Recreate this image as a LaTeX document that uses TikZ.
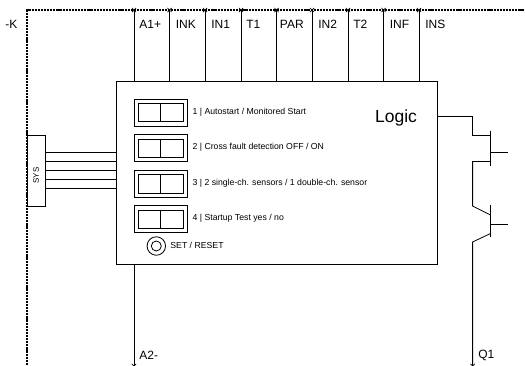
\documentclass[tikz,border=0pt]{standalone}
\usepackage{fontspec}
\setmainfont{Liberation Sans}
\usetikzlibrary{shapes.misc}
\begin{document}
\begin{tikzpicture}[x=1pt, y=-1pt, inner sep=0mm, line width=0.8pt,
		busstyle/.style={line width=1.1pt, dash pattern=on 2.2pt off 0.9pt},
		crossstyle/.style={draw, cross out, line width=0.7pt, minimum size=3.5pt},
		termstyle/.style={font=\fontsize{12}{14}\selectfont, anchor=west},
		textstyle/.style={font=\fontsize{8.7}{10}\selectfont, anchor=west},
		boxstyle/.style={draw, fill=white}]
		\useasboundingbox (0,0) rectangle (525,365);

		% bus
		\coordinate (corner) at (27,10);
		\coordinate (busend) at (525,10);
		\coordinate (busbot) at (27,365);
		\draw [busstyle] (busbot) -- (corner) -- (busend);
		\node [termstyle] (kname) at (5,24) {-K};

		% logic block
		\node [boxstyle, minimum width=321pt, minimum height=183pt] (logic) at (276.5,172.5) {};
		\node [font=\fontsize{17.5}{20}\selectfont] (logicname) at (396,118) {Logic};

		% terminals
		\foreach \name/\px/\lab/\off in {aone/134/A1+/5, ink/169.5/INK/6, inone/205/IN1/6, tone/241/T1/5,
				par/276.5/PAR/3, intwo/312/IN2/6, ttwo/348/T2/5, inf/383.5/INF/6, ins/419/INS/6} {
			\node [crossstyle] (\name) at (\px,10) {};
			\node [termstyle] (\name lab) at (\px+\off,24) {\lab};
			\draw (\name.center) -- (\name.center |- logic.north);
		}

		% switches
		\foreach \n/\py/\lab in {1/112.5/{1 | Autostart / Monitored Start},
				2/148.2/{2 | Cross fault detection OFF / ON},
				3/183.9/{3 | 2 single-ch. sensors / 1 double-ch. sensor},
				4/219.2/{4 | Startup Test yes / no}} {
			\node [draw, minimum width=53pt, minimum height=27pt] (sw\n) at (160.5,\py) {};
			\node [draw, minimum width=45pt, minimum height=18.5pt] (swin\n) at (160.5,\py) {};
			\draw (swin\n.north) -- (swin\n.south);
			\node [textstyle] (swlab\n) at (192.2,\py-0.5) {\lab};
		}

		% reset button
		\node [draw, circle, minimum size=18.5pt] (reset) at (156.3,246) {};
		\node [draw, circle, minimum size=10pt] (resetin) at (156.3,246) {};
		\node [textstyle] (resetlab) at (170,245) {SET / RESET};

		% system plug
		\node [boxstyle, minimum width=18pt, minimum height=71pt] (sys) at (36,170.5) {};
		\node [font=\fontsize{8}{10}\selectfont, rotate=90] (syslab) at (36,175.5) {SYS};
		\foreach \py in {152.3, 161.3, 170.3, 179.3, 188.3}
			\draw (sys.east |- 0,\py) -- (logic.west |- 0,\py);

		% A2
		\node [crossstyle] (atwo) at (134,366) {};
		\node [termstyle] (atwolab) at (139,355) {A2-};
		\draw (atwo.center |- logic.south) -- (atwo.center);

		% output
		\coordinate (g1) at (490.5,135);
		\coordinate (d1) at (490.5,161.5);
		\coordinate (g2) at (490.5,215);
		\coordinate (d2) at (490.5,233.5);
		\node [crossstyle] (qone) at (472.6,366) {};
		\node [termstyle] (qonelab) at (478,355) {Q1};
		\draw (logic.east |- 0,116.7) -- (472.6,116.7) -- (472.6,135) -- (g1);
		\draw (490.5,130.7) -- (490.5,166);
		\draw (490.5,152) -- (508,152);
		\draw (d1) -- (472.6,161.5) -- (472.6,206) -- (g2);
		\draw (490.5,205) -- (490.5,236.7);
		\draw (490.5,224) -- (508,224);
		\draw (d2) -- (472.6,242) -- (qone.center);
	\end{tikzpicture}
\end{document}
